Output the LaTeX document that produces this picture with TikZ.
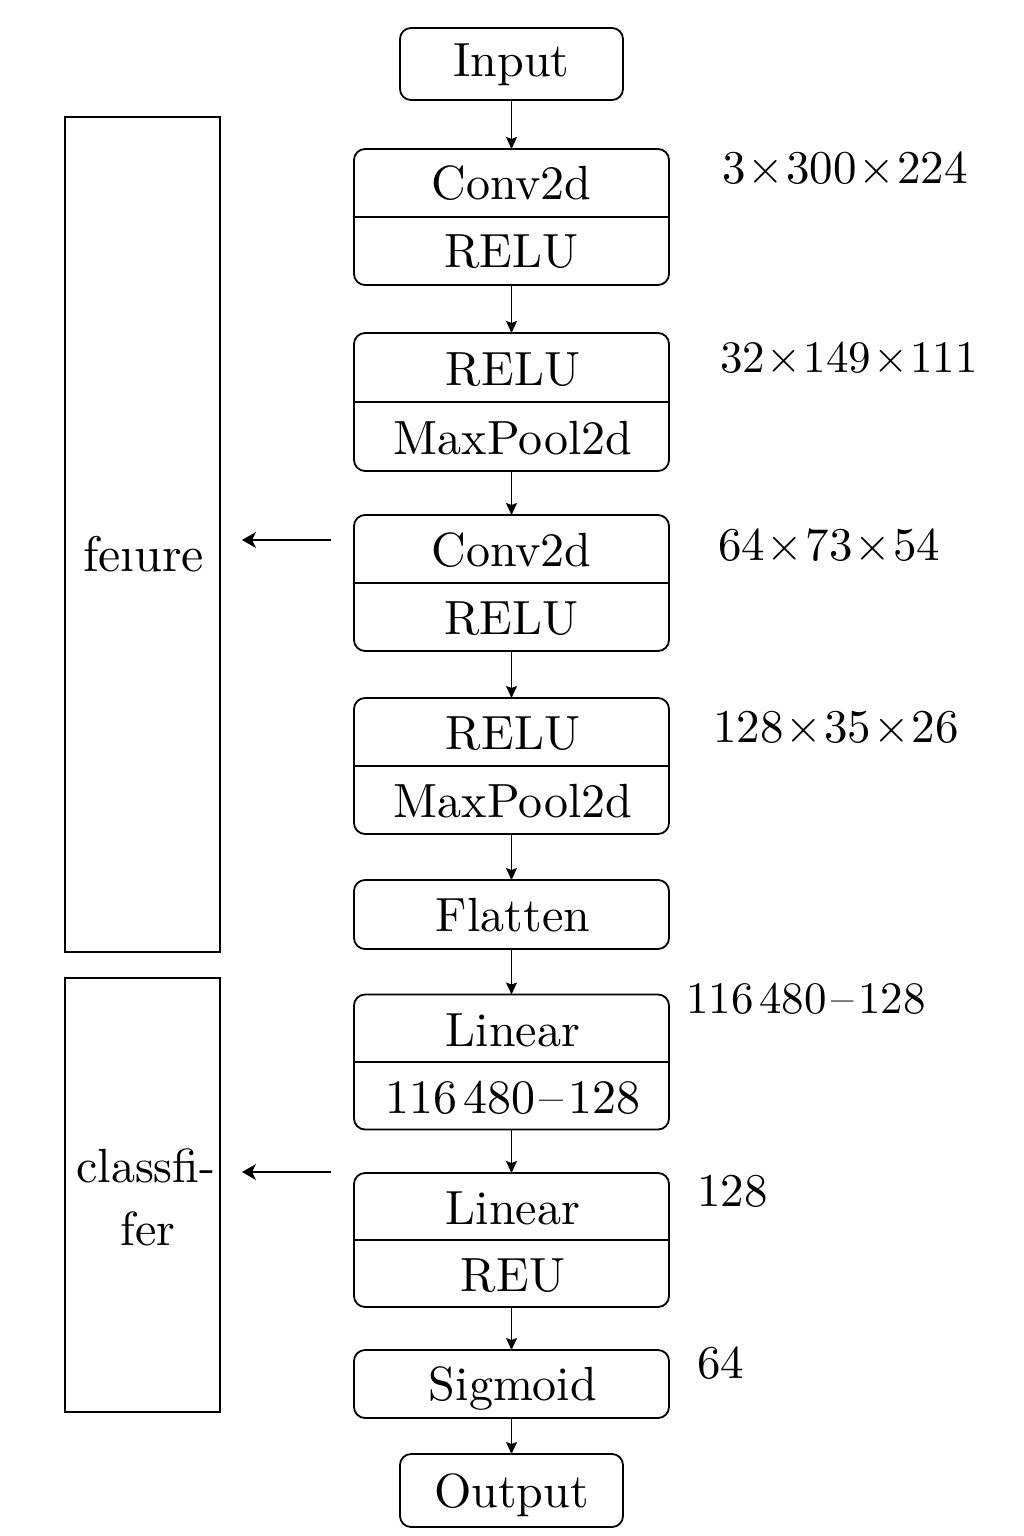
\documentclass[tikz,border=0pt]{standalone}
\usepackage{fontspec}
\setmainfont{lmroman10-regular}[Extension=.otf]
\usetikzlibrary{arrows.meta}
\newcommand{\mytimes}{\kern2pt×\kern2pt}
\newcommand{\mydash}{\kern4.5pt--\kern4.5pt}
\begin{document}
\begin{tikzpicture}[x=1pt,y=-1pt,
  every node/.style={inner sep=0pt,outer sep=0pt},
  blk/.style={draw,line width=1.8pt,rounded corners=11pt,minimum width=315pt},
  side/.style={draw,line width=1.8pt,minimum width=155pt},
  txt/.style={anchor=base,font=\fontsize{48}{58}\selectfont},
  dim/.style={anchor=base west,font=\fontsize{47}{56}\selectfont},
  arr/.style={line width=1.4pt,-{Stealth[length=12pt,width=11pt,inset=2pt]}},
  larr/.style={line width=1.6pt,-{Stealth[length=14pt,width=16pt,inset=4pt]}},
  div/.style={line width=1.8pt}]
\useasboundingbox (0,0) rectangle (1024,1536);
% side boxes
\node[side,minimum height=835pt] (feat) at (142.5,534.5) {};
\node[txt,font=\fontsize{50}{60}\selectfont] (featT) at (143.5,571) {fe\i ure};
\node[side,minimum height=434pt] (cls) at (142.5,1195) {};
\node[txt] (clsT1) at (146,1182) {classfi-};
\node[txt] (clsT2) at (148,1245) {fer};
% main column
\node[blk,minimum width=223pt,minimum height=72pt] (in) at (511.5,64) {};
\node[txt] (inT) at (511.5,77) {Input};
\node[blk,minimum height=136pt] (b1) at (511.5,217) {};
\draw[div] (b1.west) -- (b1.east);
\node[txt] (b1a) at (511.5,199) {Conv2d};
\node[txt] (b1b) at (511.5,267) {RELU};
\node[blk,minimum height=138pt] (b2) at (511.5,402) {};
\draw[div] (b2.west) -- (b2.east);
\node[txt] (b2a) at (513,385) {RELU};
\node[txt] (b2b) at (513,454) {MaxPool2d};
\node[blk,minimum height=136pt] (b3) at (511.5,583) {};
\draw[div] (b3.west) -- (b3.east);
\node[txt] (b3a) at (511.5,566) {Conv2d};
\node[txt] (b3b) at (511.5,634) {RELU};
\node[blk,minimum height=136pt] (b4) at (511.5,766) {};
\draw[div] (b4.west) -- (b4.east);
\node[txt] (b4a) at (513,749) {RELU};
\node[txt] (b4b) at (513,817) {MaxPool2d};
\node[blk,minimum height=69pt] (fl) at (511.5,914.5) {};
\node[txt] (flT) at (513,931) {Flatten};
\node[blk,minimum height=135pt] (b5) at (511.5,1062) {};
\draw[div] (b5.west) -- (b5.east);
\node[txt] (b5a) at (513,1046) {Linear};
\node[txt] (b5b) at (513,1113) {116\kern6pt480\mydash128};
\node[blk,minimum height=134pt] (b6) at (511.5,1240) {};
\draw[div] (b6.west) -- (b6.east);
\node[txt] (b6a) at (513,1224) {Linear};
\node[txt] (b6b) at (513,1291) {REU};
\node[blk,minimum height=68pt] (sg) at (511.5,1384) {};
\node[txt] (sgT) at (513,1400) {Sigmoid};
\node[blk,minimum width=223pt,minimum height=73pt] (out) at (511.5,1490.5) {};
\node[txt] (outT) at (511.5,1507) {Output};
% arrows
\draw[arr] (in.south) -- (b1.north);
\draw[arr] (b1.south) -- (b2.north);
\draw[arr] (b2.south) -- (b3.north);
\draw[arr] (b3.south) -- (b4.north);
\draw[arr] (b4.south) -- (fl.north);
\draw[arr] (fl.south) -- (b5.north);
\draw[arr] (b5.south) -- (b6.north);
\draw[arr] (b6.south) -- (sg.north);
\draw[arr] (sg.south) -- (out.north);
\coordinate (fa0) at (331,540);
\coordinate (fa1) at (242,540);
\draw[larr] (fa0) -- (fa1);
\coordinate (ca0) at (331,1172);
\coordinate (ca1) at (242,1172);
\draw[larr] (ca0) -- (ca1);
% dimension labels
\node[dim] (d1) at (722,183) {3\mytimes300\mytimes224};
\node[dim,font=\fontsize{45}{54}\selectfont] (d2) at (720,372) {32\mytimes149\mytimes111};
\node[dim] (d3) at (718,560) {64\mytimes73\mytimes54};
\node[dim] (d4) at (713,742) {128\mytimes35\mytimes26};
\node[dim,font=\fontsize{45}{54}\selectfont] (d5) at (686,1013) {116\kern6pt480\mydash128};
\node[dim] (d6) at (697,1206) {128};
\node[dim] (d7) at (697,1378) {64};
\end{tikzpicture}
\end{document}
